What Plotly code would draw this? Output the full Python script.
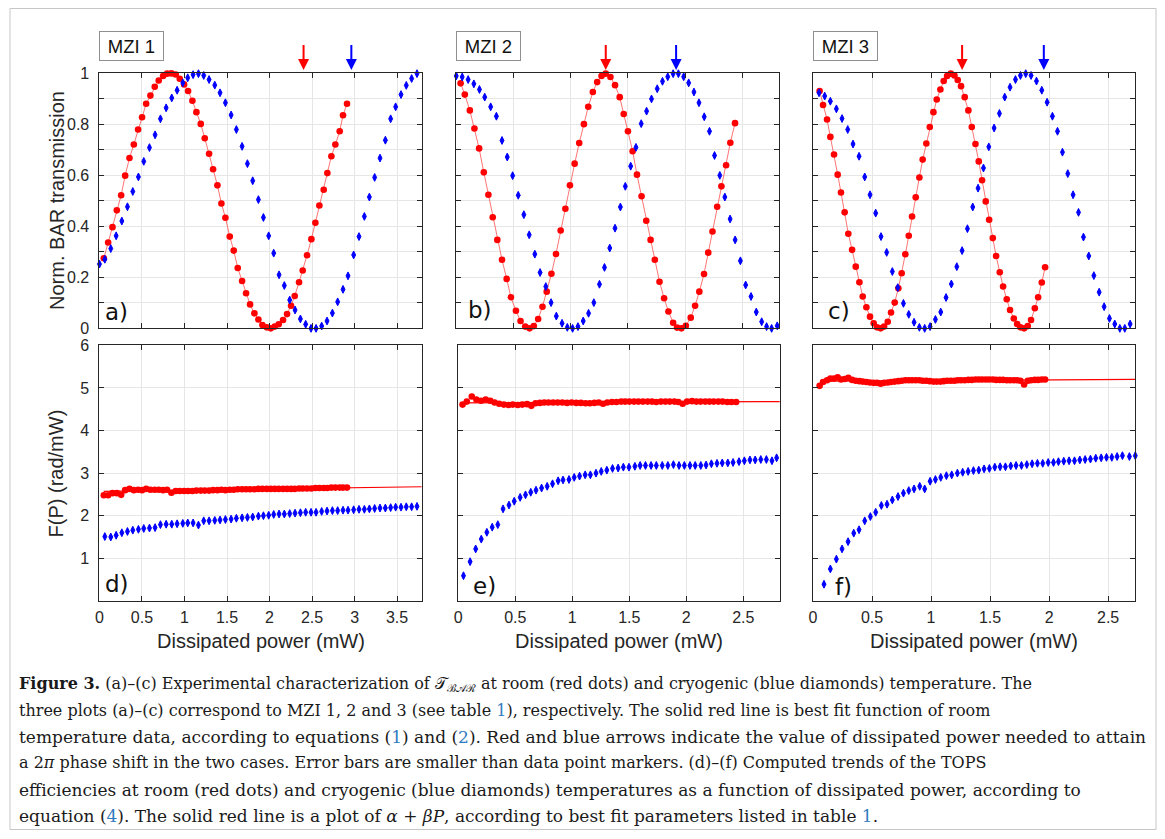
import plotly.graph_objects as go

W, H = 1165, 839

# ---------------- data ----------------
# (a) MZI 1, normalized BAR transmission
a_red_x = [0.051,0.102,0.153,0.204,0.255,0.302,0.353,0.404,0.454,0.501,0.549,0.599,0.650,0.697,0.748,0.795,0.846,0.897,0.944,0.995,
           1.042,1.093,1.140,1.191,1.238,1.289,1.336,1.387,1.434,1.481,1.532,1.579,1.626,1.677,1.724,1.771,1.822,1.869,1.916,1.967,
           2.014,2.061,2.108,2.159,2.206,2.253,2.296,2.347,2.390,2.441,2.492,2.539,2.586,2.637,2.680,2.727,2.774,2.825,2.864,2.911]
a_red_y = [0.275,0.337,0.397,0.463,0.522,0.599,0.668,0.721,0.780,0.828,0.881,0.913,0.948,0.972,0.990,0.999,1.000,0.996,0.979,0.957,
           0.931,0.893,0.848,0.802,0.746,0.685,0.624,0.561,0.490,0.434,0.360,0.305,0.237,0.186,0.138,0.094,0.059,0.035,0.013,0.004,
           0.000,0.007,0.016,0.033,0.056,0.089,0.127,0.181,0.227,0.287,0.350,0.414,0.482,0.544,0.609,0.675,0.721,0.773,0.836,0.881]
a_blue_x = [0.000,0.063,0.133,0.196,0.263,0.329,0.392,0.458,0.521,0.588,0.654,0.717,0.784,0.850,0.913,0.980,1.038,1.101,1.164,1.226,
            1.289,1.356,1.418,1.481,1.548,1.610,1.677,1.740,1.802,1.869,1.928,1.990,2.049,2.112,2.174,2.237,2.300,2.363,2.425,2.488,
            2.547,2.613,2.676,2.739,2.801,2.864,2.923,2.989,3.052,3.115,3.174,3.236,3.299,3.362,3.424,3.483,3.546,3.608,3.671,3.734,3.793]
a_blue_y = [0.252,0.271,0.313,0.363,0.421,0.477,0.537,0.594,0.655,0.709,0.759,0.822,0.865,0.904,0.934,0.963,0.983,0.995,0.999,0.992,
            0.976,0.954,0.924,0.885,0.837,0.780,0.714,0.646,0.579,0.505,0.435,0.363,0.295,0.210,0.168,0.111,0.072,0.037,0.016,0.000,
            0.000,0.009,0.029,0.060,0.104,0.153,0.206,0.288,0.360,0.439,0.515,0.592,0.668,0.738,0.822,0.869,0.917,0.953,0.980,0.999,1.000]

# (b) MZI 2
b_red_x = [0.038,0.075,0.119,0.159,0.200,0.241,0.281,0.319,0.359,0.400,0.441,0.478,0.522,0.562,0.603,0.641,0.678,0.716,0.754,0.791,
           0.832,0.872,0.913,0.954,0.994,1.035,1.075,1.116,1.154,1.194,1.232,1.270,1.307,1.348,1.388,1.429,1.464,1.501,1.542,1.580,
           1.620,1.661,1.699,1.736,1.777,1.817,1.855,1.896,1.930,1.968,2.007,2.050,2.088,2.125,2.166,2.203,2.240,2.281,2.318,2.359,
           2.396,2.437]
b_red_y = [0.961,0.917,0.855,0.784,0.706,0.612,0.524,0.436,0.347,0.269,0.194,0.122,0.069,0.029,0.007,0.000,0.009,0.037,0.085,0.144,
           0.214,0.292,0.384,0.469,0.561,0.646,0.727,0.801,0.869,0.927,0.966,0.990,0.999,0.986,0.954,0.907,0.841,0.773,0.695,0.603,
           0.518,0.422,0.347,0.269,0.183,0.118,0.066,0.022,0.003,0.000,0.010,0.042,0.089,0.144,0.213,0.297,0.380,0.477,0.557,0.640,
           0.728,0.805]
b_blue_x = [0.000,0.052,0.104,0.154,0.203,0.249,0.301,0.351,0.400,0.446,0.493,0.542,0.591,0.638,0.687,0.733,0.783,0.829,0.875,0.925,
            0.971,1.017,1.064,1.110,1.157,1.203,1.252,1.296,1.342,1.388,1.435,1.478,1.525,1.571,1.617,1.664,1.707,1.757,1.803,1.849,
            1.896,1.942,1.988,2.032,2.078,2.122,2.168,2.214,2.258,2.304,2.348,2.394,2.438,2.484,2.530,2.577,2.623,2.670,2.713,2.757,2.806]
b_blue_y = [0.990,0.986,0.976,0.959,0.937,0.907,0.869,0.832,0.737,0.672,0.599,0.522,0.446,0.367,0.291,0.219,0.164,0.101,0.048,0.020,
            0.004,0.000,0.007,0.029,0.059,0.101,0.173,0.239,0.315,0.393,0.476,0.557,0.636,0.710,0.803,0.852,0.900,0.940,0.969,0.987,
            0.999,0.999,0.987,0.963,0.927,0.885,0.830,0.773,0.678,0.600,0.515,0.429,0.347,0.265,0.170,0.125,0.064,0.026,0.007,0.000,0.010]

# (c) MZI 3
c_red_x = [0.056,0.085,0.119,0.147,0.178,0.209,0.237,0.268,0.299,0.331,0.362,0.393,0.421,0.452,0.483,0.514,0.542,0.573,0.602,0.633,
           0.661,0.692,0.723,0.751,0.782,0.811,0.839,0.870,0.901,0.929,0.960,0.989,1.020,1.048,1.079,1.107,1.136,1.167,1.198,1.226,
           1.254,1.285,1.316,1.345,1.376,1.404,1.432,1.463,1.492,1.523,1.551,1.582,1.610,1.641,1.669,1.701,1.729,1.757,1.788,1.819,
           1.847,1.879,1.907,1.938,1.966]
c_red_y = [0.931,0.876,0.819,0.751,0.682,0.603,0.533,0.455,0.371,0.308,0.242,0.181,0.125,0.083,0.046,0.020,0.004,0.000,0.007,0.026,
           0.062,0.101,0.157,0.216,0.291,0.363,0.439,0.514,0.592,0.662,0.725,0.790,0.848,0.898,0.937,0.970,0.990,0.999,0.992,0.974,
           0.950,0.907,0.855,0.790,0.723,0.655,0.581,0.498,0.426,0.354,0.284,0.220,0.164,0.114,0.072,0.039,0.017,0.004,0.000,0.009,
           0.033,0.079,0.122,0.180,0.240]
c_blue_x = [0.051,0.099,0.147,0.198,0.246,0.294,0.339,0.390,0.438,0.483,0.531,0.576,0.624,0.672,0.718,0.766,0.811,0.856,0.901,0.946,
            0.992,1.037,1.082,1.127,1.172,1.218,1.263,1.308,1.353,1.398,1.444,1.489,1.534,1.579,1.624,1.669,1.715,1.757,1.802,1.847,
            1.893,1.938,1.983,2.028,2.071,2.113,2.158,2.203,2.249,2.291,2.336,2.379,2.424,2.466,2.511,2.556,2.599,2.641,2.686,2.734]
c_blue_y = [0.924,0.911,0.891,0.861,0.823,0.780,0.723,0.675,0.594,0.524,0.452,0.360,0.298,0.223,0.160,0.098,0.055,0.024,0.004,0.000,
            0.007,0.035,0.064,0.121,0.174,0.242,0.305,0.391,0.476,0.550,0.629,0.712,0.786,0.843,0.907,0.946,0.976,0.992,0.999,0.992,
            0.970,0.934,0.887,0.832,0.773,0.691,0.607,0.524,0.455,0.358,0.284,0.207,0.142,0.085,0.039,0.017,0.000,0.000,0.017,0.050]

# 2-pi arrows (dissipated power, mW): room (red) / cryogenic (blue)
arrow_red = [2.40, 1.307, 1.263]
arrow_blue = [2.962, 1.922, 1.955]

# (d) MZI 1, F(P)
d_red_x = a_red_x
d_red_y = [2.48,2.48,2.53,2.53,2.49,2.60,2.63,2.60,2.61,2.60,2.63,2.61,2.61,2.61,2.60,2.61,2.54,2.58,2.58,2.58,
           2.58,2.58,2.59,2.59,2.59,2.59,2.60,2.60,2.61,2.60,2.61,2.61,2.62,2.62,2.62,2.62,2.62,2.63,2.63,2.63,
           2.63,2.63,2.63,2.63,2.63,2.63,2.63,2.64,2.64,2.64,2.64,2.65,2.65,2.65,2.65,2.66,2.66,2.66,2.66,2.66]
d_blue_x = a_blue_x[1:]
d_blue_y = [1.51,1.50,1.54,1.60,1.63,1.66,1.68,1.70,1.71,1.72,1.79,1.80,1.80,1.81,1.82,1.83,1.83,1.78,1.88,1.88,
            1.89,1.90,1.91,1.92,1.94,1.95,1.96,1.97,1.99,2.00,2.01,2.03,2.04,2.04,2.05,2.06,2.07,2.08,2.08,2.08,
            2.10,2.11,2.12,2.12,2.13,2.13,2.14,2.15,2.15,2.16,2.17,2.18,2.18,2.19,2.20,2.20,2.21,2.21,2.22,2.22]
d_fit_x = [0.05, 3.79]
d_fit_y = [2.57, 2.68]

# (e) MZI 2, F(P)
e_red_x = b_red_x
e_red_y = [4.61,4.68,4.80,4.73,4.70,4.73,4.70,4.66,4.63,4.61,4.60,4.61,4.60,4.61,4.62,4.58,4.64,4.65,4.66,4.66,
           4.66,4.66,4.66,4.65,4.66,4.65,4.65,4.64,4.64,4.65,4.66,4.63,4.66,4.67,4.67,4.68,4.68,4.68,4.68,4.68,
           4.68,4.68,4.68,4.67,4.68,4.68,4.68,4.68,4.67,4.63,4.68,4.69,4.68,4.68,4.68,4.68,4.68,4.68,4.68,4.67,
           4.67,4.67]
e_blue_x = [0.046,0.104,0.153,0.202,0.251,0.298,0.347,0.393,0.445,0.491,0.543,0.590,0.636,0.682,0.731,0.780,0.827,0.876,0.919,0.971,
            1.017,1.064,1.113,1.159,1.208,1.254,1.303,1.353,1.402,1.448,1.497,1.549,1.595,1.642,1.691,1.737,1.789,1.838,1.887,1.936,
            1.983,2.032,2.078,2.127,2.173,2.220,2.269,2.315,2.364,2.410,2.462,2.509,2.558,2.604,2.653,2.702,2.751,2.792]
e_blue_y = [0.59,0.92,1.22,1.45,1.61,1.73,1.79,2.16,2.25,2.34,2.43,2.49,2.55,2.60,2.65,2.69,2.75,2.82,2.84,2.85,
            2.90,2.93,2.96,2.96,3.00,3.04,3.07,3.11,3.12,3.14,3.14,3.16,3.18,3.18,3.18,3.18,3.18,3.18,3.20,3.18,
            3.18,3.18,3.18,3.18,3.19,3.22,3.23,3.24,3.24,3.25,3.27,3.29,3.31,3.31,3.32,3.32,3.29,3.36]
e_fit_x = [0.04, 2.82]
e_fit_y = [4.65, 4.68]

# (f) MZI 3, F(P)
f_red_x = c_red_x
f_red_y = [5.05,5.14,5.18,5.22,5.22,5.25,5.20,5.21,5.24,5.19,5.17,5.16,5.15,5.14,5.13,5.12,5.12,5.10,5.12,5.13,
           5.14,5.15,5.16,5.17,5.18,5.18,5.18,5.18,5.18,5.17,5.17,5.16,5.15,5.15,5.15,5.16,5.17,5.17,5.17,5.18,
           5.18,5.18,5.19,5.19,5.20,5.20,5.20,5.20,5.20,5.20,5.19,5.19,5.19,5.18,5.18,5.18,5.18,5.17,5.08,5.17,
           5.18,5.19,5.19,5.20,5.20]
f_blue_x = [0.093,0.147,0.198,0.246,0.297,0.345,0.390,0.438,0.486,0.531,0.579,0.627,0.672,0.720,0.766,0.811,0.856,0.904,0.946,0.992,
            1.037,1.082,1.130,1.175,1.223,1.268,1.314,1.359,1.404,1.449,1.494,1.540,1.585,1.630,1.675,1.720,1.766,1.811,1.856,1.901,
            1.946,1.992,2.037,2.079,2.124,2.169,2.215,2.260,2.305,2.350,2.395,2.441,2.486,2.531,2.576,2.621,2.680,2.730]
f_blue_y = [0.39,0.75,0.98,1.22,1.39,1.59,1.67,1.88,1.98,2.08,2.24,2.27,2.37,2.45,2.53,2.59,2.63,2.69,2.63,2.81,
            2.85,2.90,2.94,2.96,3.00,3.02,3.04,3.06,3.07,3.10,3.11,3.14,3.15,3.15,3.17,3.18,3.18,3.20,3.22,3.23,
            3.23,3.25,3.25,3.27,3.28,3.29,3.29,3.31,3.32,3.33,3.35,3.36,3.37,3.37,3.39,3.41,3.39,3.41]
f_fit_x = [0.07, 2.73]
f_fit_y = [5.16, 5.20]

x_ranges = [3.79, 2.82, 2.73]
mzi_labels = ["MZI 1", "MZI 2", "MZI 3"]
panel_tags = ["a)", "b)", "c)", "d)", "e)", "f)"]
top_yticks = [0, 0.2, 0.4, 0.6, 0.8, 1.0]
top_yticktext = ["0", "0.2", "0.4", "0.6", "0.8", "1"]
top_yminor = [0.1, 0.3, 0.5, 0.7, 0.9]
bot_yticks = [1, 2, 3, 4, 5, 6]
xtick_vals = [0, 0.5, 1, 1.5, 2, 2.5, 3, 3.5]
xtick_text = ["0", "0.5", "1", "1.5", "2", "2.5", "3", "3.5"]

# ---------------- layout geometry (target pixels, compensated for capture) ----------------
SY, OY, OX = 0.978, 8.7, 1.5

def px(v):
    return (v - OX) / W

def py(v):
    y = (v - OY) / SY
    y = min(max(y, 0.5), H - 0.5)
    return 1 - y / H

def xa(k):
    return "x" if k == 1 else f"x{k}"

def ya(k):
    return "y" if k == 1 else f"y{k}"

col_px = [(97.3, 420.7), (455.3, 779.0), (813.3, 1136.7)]
col_px_bot = [(97.3, 420.7), (457.3, 780.0), (813.3, 1136.7)]
top_row = (74.0, 328.5)
bot_row = (345.5, 600.5)
tag_pos = [(114.7, 312), (479.0, 310), (839.7, 311.5), (114.7, 584), (483.4, 586), (844.0, 587)]

RED = "#ff0000"
BLUE = "#0000ff"
AX = "#262626"
GRID = "#e6e6e6"
FONT = "Liberation Sans"

fig = go.Figure()

top_sets = [(a_red_x, a_red_y, a_blue_x, a_blue_y),
            (b_red_x, b_red_y, b_blue_x, b_blue_y),
            (c_red_x, c_red_y, c_blue_x, c_blue_y)]
bot_sets = [(d_red_x, d_red_y, d_blue_x, d_blue_y, d_fit_x, d_fit_y),
            (e_red_x, e_red_y, e_blue_x, e_blue_y, e_fit_x, e_fit_y),
            (f_red_x, f_red_y, f_blue_x, f_blue_y, f_fit_x, f_fit_y)]

blue_marker = dict(color=BLUE, size=5.6, symbol="diamond-tall", line=dict(color=BLUE, width=1))
red_marker = dict(color=RED, size=6.6, symbol="circle")

for i, (rx, ry, bx, by) in enumerate(top_sets):
    k = i + 1
    fig.add_trace(go.Scatter(x=rx, y=ry, mode="lines+markers", xaxis=xa(k), yaxis=ya(k),
                             line=dict(color="rgba(255,70,70,0.75)", width=1),
                             marker=red_marker, cliponaxis=False, showlegend=False))
    fig.add_trace(go.Scatter(x=bx, y=by, mode="markers", xaxis=xa(k), yaxis=ya(k),
                             marker=blue_marker, cliponaxis=False, showlegend=False))

for i, (rx, ry, bx, by, fx, fy) in enumerate(bot_sets):
    k = i + 4
    fig.add_trace(go.Scatter(x=fx, y=fy, mode="lines", xaxis=xa(k), yaxis=ya(k),
                             line=dict(color=RED, width=1.2), showlegend=False))
    fig.add_trace(go.Scatter(x=rx, y=ry, mode="markers", xaxis=xa(k), yaxis=ya(k),
                             marker=red_marker, cliponaxis=False, showlegend=False))
    fig.add_trace(go.Scatter(x=bx, y=by, mode="markers", xaxis=xa(k), yaxis=ya(k),
                             marker=blue_marker, cliponaxis=False, showlegend=False))

layout = dict(width=W, height=H, margin=dict(l=0, r=0, t=0, b=0, pad=0), autosize=False,
              paper_bgcolor="white", plot_bgcolor="white", showlegend=False,
              font=dict(family=FONT, color=AX, size=16))

axis_common = dict(showline=True, linecolor=AX, linewidth=1, mirror="ticks",
                   ticks="inside", ticklen=5, tickcolor=AX, tickwidth=1,
                   showgrid=True, gridcolor=GRID, gridwidth=1, zeroline=False,
                   tickfont=dict(family=FONT, size=16, color=AX))
minor_top = dict(tickvals=top_yminor, ticks="inside", ticklen=5, tickcolor=AX, tickwidth=1,
                 showgrid=True, gridcolor=GRID, gridwidth=1)

def lkey(prefix, k):
    return prefix if k == 1 else f"{prefix}{k}"

for i in range(3):
    k = i + 1
    x0, x1 = col_px[i]
    layout[lkey("xaxis", k)] = dict(axis_common, domain=[px(x0), px(x1)], range=[0, x_ranges[i]],
                                    anchor=ya(k), tickvals=xtick_vals, ticktext=xtick_text,
                                    showticklabels=False)
    layout[lkey("yaxis", k)] = dict(axis_common, domain=[py(top_row[1]), py(top_row[0])], range=[0, 1],
                                    anchor=xa(k), tickvals=top_yticks, ticktext=top_yticktext,
                                    minor=minor_top, showticklabels=(i == 0), ticklabelstandoff=6)
    k2 = i + 4
    bx0, bx1 = col_px_bot[i]
    layout[lkey("xaxis", k2)] = dict(axis_common, domain=[px(bx0), px(bx1)], range=[0, x_ranges[i]],
                                     anchor=ya(k2), tickvals=xtick_vals, ticktext=xtick_text,
                                     showticklabels=True, ticklabelstandoff=2)
    layout[lkey("yaxis", k2)] = dict(axis_common, domain=[py(bot_row[1]), py(bot_row[0])], range=[0, 6],
                                     anchor=xa(k2), tickvals=bot_yticks, ticktext=[str(v) for v in bot_yticks],
                                     showticklabels=(i == 0), ticklabelstandoff=6)

fig.update_layout(**layout)

ann = []
# MZI boxes, arrows
for i in range(3):
    k = i + 1
    x0, _ = col_px[i]
    ann.append(dict(text=mzi_labels[i], xref="paper", yref="paper", x=px(x0), y=py(46.3),
                    xanchor="left", yanchor="middle", showarrow=False,
                    font=dict(family=FONT, size=18.5, color="#111111"),
                    bgcolor="white", bordercolor="#8f8f8f", borderwidth=1, borderpad=0,
                    width=63, height=28, align="center"))
    for xv, col in ((arrow_red[i], RED), (arrow_blue[i], BLUE)):
        ann.append(dict(text="", xref=xa(k), yref="paper", x=xv, y=py(70.5),
                        showarrow=True, ax=0, ay=-26.5, axref="pixel", ayref="pixel",
                        arrowhead=2, arrowsize=1.1, arrowwidth=2, arrowcolor=col, standoff=0))

# panel tags
for j in range(6):
    tx, ty = tag_pos[j]
    ann.append(dict(text=panel_tags[j], xref="paper", yref="paper", x=px(tx), y=py(ty),
                    xanchor="center", yanchor="middle", showarrow=False,
                    font=dict(family="DejaVu Sans", size=23, color="#111111")))

# axis titles
ann.append(dict(text="Norm. BAR transmission", xref="paper", yref="paper", x=px(54), y=py(201),
                xanchor="center", yanchor="middle", textangle=-90, showarrow=False,
                font=dict(family=FONT, size=20, color=AX)))
ann.append(dict(text="F(P) (rad/mW)", xref="paper", yref="paper", x=px(54), y=py(473),
                xanchor="center", yanchor="middle", textangle=-90, showarrow=False,
                font=dict(family=FONT, size=20, color=AX)))
for i in range(3):
    bx0, bx1 = col_px_bot[i]
    ann.append(dict(text="Dissipated power (mW)", xref="paper", yref="paper", x=px((bx0 + bx1) / 2), y=py(641),
                    xanchor="center", yanchor="middle", showarrow=False,
                    font=dict(family=FONT, size=20, color=AX)))

# caption
LINK = "#2f7bbf"
def lk(t):
    return f"<span style='color:{LINK}'>{t}</span>"

caption_lines = [
    "<b>Figure 3.</b> (a)–(c) Experimental characterization of 𝒯<sub>ℬ𝒜ℛ</sub> at room (red dots) and cryogenic (blue diamonds) temperature. The",
    f"three plots (a)–(c) correspond to MZI 1, 2 and 3 (see table {lk('1')}), respectively. The solid red line is best fit function of room",
    f"temperature data, according to equations ({lk('1')}) and ({lk('2')}). Red and blue arrows indicate the value of dissipated power needed to attain",
    "a 2<i>π</i> phase shift in the two cases. Error bars are smaller than data point markers. (d)–(f) Computed trends of the TOPS",
    "efficiencies at room (red dots) and cryogenic (blue diamonds) temperatures as a function of dissipated power, according to",
    f"equation ({lk('4')}). The solid red line is a plot of <i>α</i> + <i>βP</i>, according to best fit parameters listed in table {lk('1')}.",
]
cap_y = [684, 710, 736, 762, 789, 815]
cap_size = [16, 16, 17, 16, 17, 17]
for t, yy, fs in zip(caption_lines, cap_y, cap_size):
    ann.append(dict(text=t, xref="paper", yref="paper", x=px(15), y=py(yy), xanchor="left", yanchor="middle",
                    showarrow=False, align="left", font=dict(family="DejaVu Serif", size=fs, color="#1a1a1a")))

fig.update_layout(annotations=ann)

fig.add_shape(type="rect", xref="paper", yref="paper", x0=px(7.5), x1=px(1157.5), y0=py(829.5), y1=py(4.5),
              line=dict(color="#c6c6c6", width=1), fillcolor="rgba(0,0,0,0)", layer="below")

fig.write_html("out.html", config={"responsive": False, "displayModeBar": False},
               post_script="document.body.style.margin='0';document.body.style.overflow='hidden';")
